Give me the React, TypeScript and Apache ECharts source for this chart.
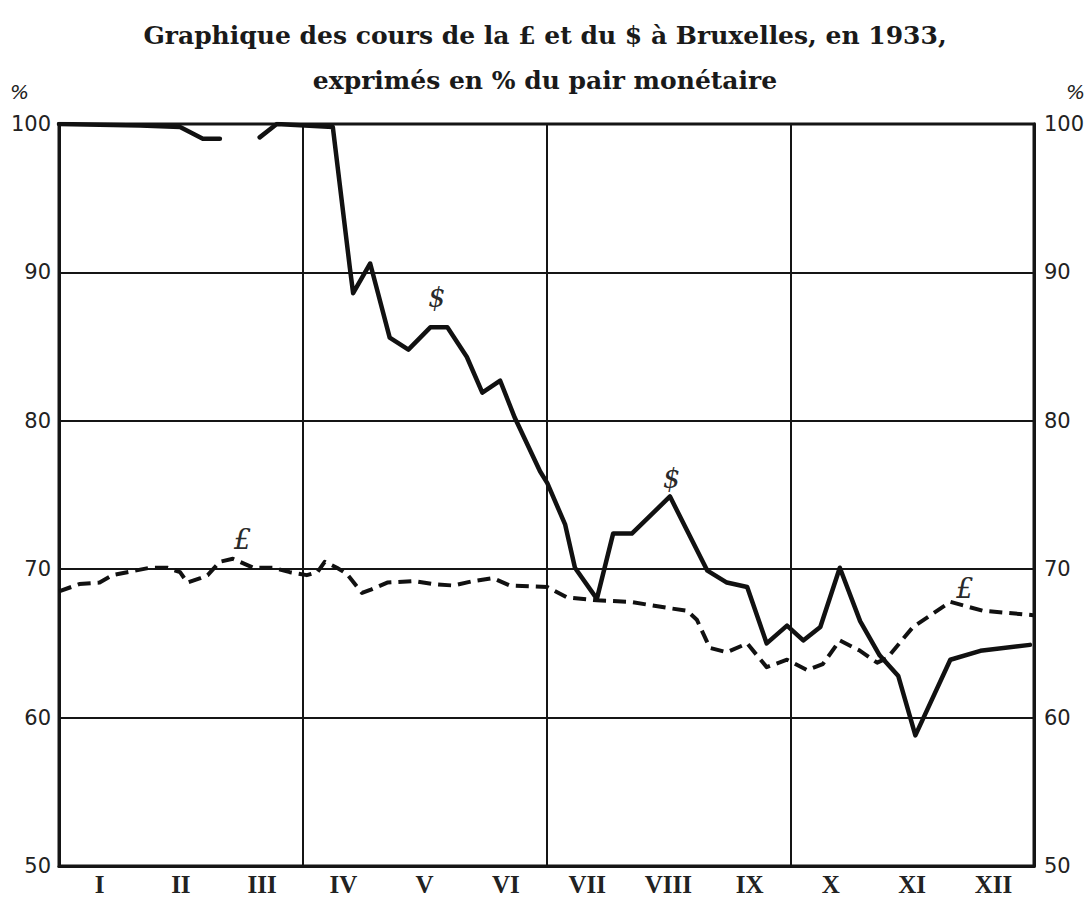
import React, { useEffect, useRef } from "react";
import * as echarts from "echarts";

const monthLabels = ["I", "II", "III", "IV", "V", "VI", "VII", "VIII", "IX", "X", "XI", "XII"];

// x positions in months from 1 Jan 1933 (0 = start of January, 12 = end of December)
const dollarMonths = [
  0.0, 1.0, 1.49, 1.77, 1.98, 2.2, 2.47, 2.68, 3.37, 3.58, 3.62, 3.83, 4.07, 4.3, 4.57, 4.78,
  5.02, 5.21, 5.43, 5.61, 5.92, 6.01, 6.23, 6.35, 6.62, 6.82, 7.05, 7.52, 7.73, 7.98, 8.22,
  8.47, 8.71, 8.96, 9.16, 9.37, 9.61, 9.86, 10.1, 10.33, 10.54, 10.97, 11.34, 11.95,
];
const dollarValues = [
  100, 99.9, 99.8, 99.0, 99.0, null, 99.1, 100, 99.8, 90.3, 88.6, 90.6, 85.6, 84.8, 86.3, 86.3,
  84.3, 81.9, 82.7, 80.2, 76.6, 75.8, 73.0, 70.1, 68.0, 72.4, 72.4, 74.9, 72.6, 69.9, 69.1,
  68.8, 65.0, 66.2, 65.2, 66.1, 70.1, 66.5, 64.2, 62.8, 58.8, 63.9, 64.5, 64.9,
];

const poundMonths = [
  0.0, 0.25, 0.5, 0.66, 0.84, 1.12, 1.33, 1.49, 1.58, 1.74, 1.83, 1.98, 2.14, 2.39, 2.63, 2.84,
  3.05, 3.18, 3.27, 3.42, 3.54, 3.73, 3.83, 4.04, 4.36, 4.6, 4.85, 5.1, 5.34, 5.55, 6.01, 6.25,
  6.62, 7.03, 7.48, 7.73, 7.85, 8.01, 8.22, 8.47, 8.71, 8.96, 9.21, 9.4, 9.61, 9.86, 10.07,
  10.19, 10.51, 10.97, 11.37, 11.99,
];
const poundValues = [
  68.5, 69.0, 69.1, 69.6, 69.8, 70.1, 70.1, 69.8, 69.1, 69.4, 69.6, 70.5, 70.7, 70.1, 70.1, 69.8,
  69.6, 69.8, 70.5, 70.1, 69.7, 68.4, 68.6, 69.1, 69.2, 69.0, 68.9, 69.2, 69.4, 68.9, 68.8, 68.1,
  67.9, 67.8, 67.4, 67.2, 66.6, 64.7, 64.4, 65.0, 63.4, 63.9, 63.2, 63.6, 65.2, 64.5, 63.7,
  64.0, 66.1, 67.8, 67.2, 66.9,
];

const yMin = 50;
const yMax = 100;
const yStep = 10;

// annotation marks: [month, value]
const dollarMarks = [
  [4.65, 88.3],
  [7.54, 76.1],
];
const poundMarks = [
  [2.26, 72.0],
  [11.15, 68.7],
];

const titleText =
  "Graphique des cours de la £ et du $ à Bruxelles, en 1933,\nexprimés en % du pair monétaire";

export default function App() {
  const ref = useRef<HTMLDivElement>(null);
  useEffect(() => {
    if (!ref.current) return;
    const chart = echarts.init(ref.current, undefined, { renderer: "svg" });
    const ink = "#151515";
    const axisLabelFont = {
      fontFamily: "DejaVu Sans",
      fontSize: 21,
      color: "#222",
    };
    const markLabel = (txt: string) => ({
      show: true,
      position: "inside",
      formatter: txt,
      fontFamily: "DejaVu Serif",
      fontStyle: "italic",
      fontSize: 27,
      color: "#2a2a2a",
    });
    chart.setOption({
      animation: false,
      backgroundColor: "#fff",
      title: {
        text: titleText,
        left: "center",
        top: 8,
        textStyle: {
          fontFamily: "DejaVu Serif",
          fontWeight: "bold",
          fontSize: 25,
          lineHeight: 45,
          color: "#1a1a1a",
        },
      },
      grid: {
        left: 59,
        right: 56,
        top: 124,
        bottom: 44,
        show: true,
        borderColor: ink,
        borderWidth: 3,
        backgroundColor: "transparent",
      },
      xAxis: [
        {
          type: "value",
          min: 0,
          max: 12,
          interval: 3,
          axisLine: { show: true, lineStyle: { color: ink, width: 3 } },
          axisTick: { show: false },
          axisLabel: { show: false },
          splitLine: { show: true, lineStyle: { color: ink, width: 2 } },
        },
        {
          type: "category",
          data: monthLabels,
          position: "bottom",
          boundaryGap: true,
          axisLine: { show: false },
          axisTick: { show: false },
          splitLine: { show: false },
          axisLabel: {
            margin: 6,
            fontFamily: "Liberation Serif",
            fontWeight: "bold",
            fontSize: 25,
            color: "#222",
          },
        },
      ],
      yAxis: [
        {
          type: "value",
          min: yMin,
          max: yMax,
          interval: yStep,
          position: "left",
          name: "%",
          nameLocation: "end",
          nameGap: 22,
          nameTextStyle: {
            fontFamily: "DejaVu Sans",
            fontSize: 20,
            fontStyle: "italic",
            color: "#222",
            align: "right",
            padding: [0, 30, 0, 0],
          },
          axisLine: { show: true, lineStyle: { color: ink, width: 3 } },
          axisTick: { show: false },
          axisLabel: { ...axisLabelFont, margin: 8 },
          splitLine: { show: true, lineStyle: { color: ink, width: 2 } },
        },
        {
          type: "value",
          min: yMin,
          max: yMax,
          interval: yStep,
          position: "right",
          name: "%",
          nameLocation: "end",
          nameGap: 22,
          nameTextStyle: {
            fontFamily: "DejaVu Sans",
            fontSize: 20,
            fontStyle: "italic",
            color: "#222",
            align: "left",
            padding: [0, 0, 0, 32],
          },
          axisLine: { show: true, lineStyle: { color: ink, width: 3 } },
          axisTick: { show: false },
          axisLabel: { ...axisLabelFont, margin: 10 },
          splitLine: { show: false },
        },
      ],
      series: [
        {
          name: "$",
          type: "line",
          xAxisIndex: 0,
          yAxisIndex: 0,
          data: dollarMonths.map((m, i) => [m, dollarValues[i]]),
          showSymbol: false,
          connectNulls: false,
          lineStyle: { color: "#111", width: 4.5, join: "round", cap: "round" },
          markPoint: {
            symbol: "rect",
            symbolSize: 1,
            itemStyle: { color: "transparent" },
            label: markLabel("$"),
            data: dollarMarks.map((c) => ({ coord: c })),
          },
          z: 3,
        },
        {
          name: "£",
          type: "line",
          xAxisIndex: 0,
          yAxisIndex: 0,
          data: poundMonths.map((m, i) => [m, poundValues[i]]),
          showSymbol: false,
          lineStyle: { color: "#111", width: 4, type: [13, 7], join: "round" },
          markPoint: {
            symbol: "rect",
            symbolSize: 1,
            itemStyle: { color: "transparent" },
            label: markLabel("£"),
            data: poundMarks.map((c) => ({ coord: c })),
          },
          z: 3,
        },
      ],
    });
    return () => chart.dispose();
  }, []);
  return (
    <div
      ref={ref}
      style={{ position: "fixed", left: 0, top: 0, width: 1090, height: 910, background: "#fff" }}
    />
  );
}
